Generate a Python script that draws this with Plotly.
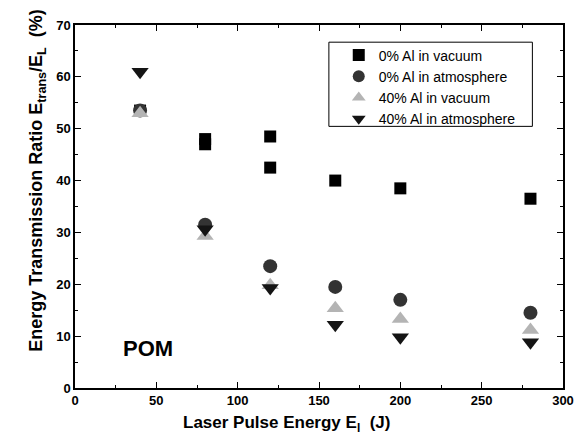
import plotly.graph_objects as go

x_vac0 = [40, 80, 80, 120, 120, 160, 200, 280]
y_vac0 = [53.5, 48.0, 47.0, 48.5, 42.5, 40.0, 38.5, 36.5]
x_main = [40, 80, 120, 160, 200, 280]
y_atm0 = [53.5, 31.5, 23.5, 19.5, 17.0, 14.5]
y_vac40 = [53.0, 29.3, 19.8, 15.4, 13.3, 11.2]
y_atm40 = [61.0, 30.6, 19.3, 12.2, 9.8, 8.8]

names = ["0% Al in vacuum", "0% Al in atmosphere", "40% Al in vacuum", "40% Al in atmosphere"]

fig = go.Figure()
fig.add_trace(go.Scatter(x=x_vac0, y=y_vac0, mode="markers", name=names[0],
                         marker=dict(symbol="square", size=12, color="#000000")))
fig.add_trace(go.Scatter(x=x_main, y=y_atm0, mode="markers", name=names[1],
                         marker=dict(symbol="circle", size=14, color="#333333")))
fig.add_trace(go.Scatter(x=x_main, y=y_vac40, mode="markers", name=names[2],
                         marker=dict(symbol="triangle-up", size=15, color="#b4b4b4")))
fig.add_trace(go.Scatter(x=x_main, y=y_atm40, mode="markers", name=names[3],
                         marker=dict(symbol="triangle-down", size=15, color="#141414")))

FONT = "Liberation Sans"

fig.add_annotation(x=45, y=7.7, text="<b>POM</b>", showarrow=False,
                   font=dict(size=22, color="black", family=FONT))

# axis titles (placed as annotations to match the reference offsets)
fig.add_annotation(xref="paper", yref="paper", x=0.434, y=-0.099,
                   xanchor="center", yanchor="middle",
                   text="<b>Laser Pulse Energy E<sub>l</sub>  (J)</b>", showarrow=False,
                   font=dict(size=17, color="black", family=FONT))
fig.add_annotation(xref="paper", yref="paper", x=-0.077, y=0.572, textangle=-90,
                   xanchor="center", yanchor="middle",
                   text="<b>Energy Transmission Ratio E<sub>trans</sub>/E<sub>L</sub>  (%)</b>",
                   showarrow=False, font=dict(size=18, color="black", family=FONT))

# legend frame
fig.add_shape(type="rect", xref="paper", yref="paper",
              x0=(332 - 75) / 494, x1=(538 - 75) / 494,
              y0=(388 - 126) / 363.5, y1=(388 - 41.7) / 363.5,
              line=dict(color="black", width=1), fillcolor="rgba(0,0,0,0)")

axis_common = dict(showline=True, linecolor="black", linewidth=1.5, mirror="ticks",
                   ticks="inside", ticklen=6, tickwidth=1, tickcolor="black",
                   showgrid=False, zeroline=False,
                   tickfont=dict(size=13, color="black", family=FONT))

fig.update_xaxes(range=[0, 300], dtick=50, tickprefix="<b>", ticksuffix="</b>",
                 minor=dict(dtick=25, ticks="inside", ticklen=3, tickcolor="black"),
                 **axis_common)
fig.update_yaxes(range=[0, 70], dtick=10, tickprefix="<b>", ticksuffix="</b>",
                 minor=dict(dtick=5, ticks="inside", ticklen=3, tickcolor="black"),
                 **axis_common)

fig.update_layout(
    width=586, height=445,
    margin=dict(l=75, r=17, t=25, b=57),
    plot_bgcolor="white", paper_bgcolor="white",
    font=dict(family=FONT, color="black"),
    showlegend=True,
    legend=dict(x=(342 - 75) / 494, y=(388 - 39) / 363.5, xanchor="left", yanchor="top",
                borderwidth=0, bgcolor="rgba(0,0,0,0)",
                font=dict(size=14, color="black", family=FONT),
                tracegroupgap=0, itemsizing="constant"),
)

fig.write_html("out.html")
